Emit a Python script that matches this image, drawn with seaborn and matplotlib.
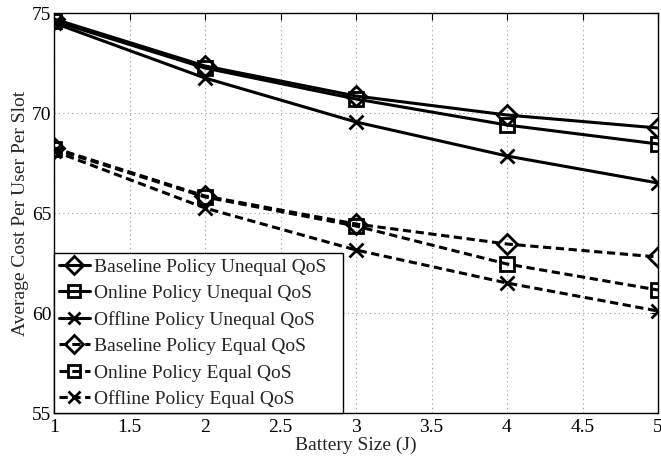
import matplotlib
matplotlib.use("Agg")
import matplotlib.pyplot as plt
import seaborn as sns
import pandas as pd

battery = [1, 2, 3, 4, 5]
baseline_unequal = [74.7, 72.35, 70.85, 69.9, 69.25]
online_unequal = [74.6, 72.25, 70.7, 69.4, 68.45]
offline_unequal = [74.5, 71.75, 69.55, 67.85, 66.5]
baseline_equal = [68.25, 65.85, 64.45, 63.45, 62.8]
online_equal = [68.2, 65.8, 64.35, 62.45, 61.15]
offline_equal = [68.1, 65.25, 63.15, 61.5, 60.1]

names = ["Baseline Policy Unequal QoS", "Online Policy Unequal QoS",
         "Offline Policy Unequal QoS", "Baseline Policy Equal QoS",
         "Online Policy Equal QoS", "Offline Policy Equal QoS"]
series = [baseline_unequal, online_unequal, offline_unequal,
          baseline_equal, online_equal, offline_equal]
markers = ["D", "s", "x", "D", "s", "x"]
msizes = [10, 10, 10, 10, 10, 10]
dash = (0, (2.7, 1.5))
styles = ["-", "-", "-", dash, dash, dash]

sns.set_style("white")
plt.rcParams["font.family"] = ["Liberation Serif", "DejaVu Serif"]

fig = plt.figure(figsize=(6.61, 4.61), dpi=100)
ax = fig.add_axes([54 / 661, 1 - 413 / 461, (658 - 54) / 661, 400 / 461])

for name, vals, m, ms, ls in zip(names, series, markers, msizes, styles):
    df = pd.DataFrame({"x": battery, "y": vals})
    sns.lineplot(data=df, x="x", y="y", ax=ax, color="black", lw=2.2,
                 linestyle=ls, marker=m, markersize=ms,
                 markerfacecolor="none", markeredgecolor="black",
                 markeredgewidth=2.0, label=name)

ax.set_xlim(1, 5)
ax.set_ylim(55, 75)
ax.set_xticks([1, 1.5, 2, 2.5, 3, 3.5, 4, 4.5, 5])
ax.set_xticklabels(["1", "1.5", "2", "2.5", "3", "3.5", "4", "4.5", "5"])
ax.set_yticks([55, 60, 65, 70, 75])
ax.tick_params(direction="in", top=True, right=True, length=5, width=0.8,
               labelsize=14, colors="black")
ax.tick_params(axis="x", pad=4)
ax.tick_params(axis="y", pad=2)
ax.grid(True, linestyle=(0, (1, 3)), color="#999999", lw=0.8)
for s in ax.spines.values():
    s.set_color("black")
    s.set_linewidth(1.0)
ax.set_xlabel("Battery Size (J)", fontsize=14, labelpad=1)
ax.set_ylabel("Average Cost Per User Per Slot", fontsize=14, labelpad=2)

leg = ax.legend(loc="lower left", bbox_to_anchor=(0, 0, (343 - 54) / 604, 1),
                mode="expand", borderaxespad=0,
                fontsize=14, frameon=True, fancybox=False, handlelength=1.6,
                handletextpad=0.2, labelspacing=0.45, borderpad=0.25,
                markerscale=0.9)
leg.get_frame().set_edgecolor("black")
leg.get_frame().set_linewidth(1.0)
leg.get_frame().set_alpha(1)

fig.savefig("out.png", dpi=100)
